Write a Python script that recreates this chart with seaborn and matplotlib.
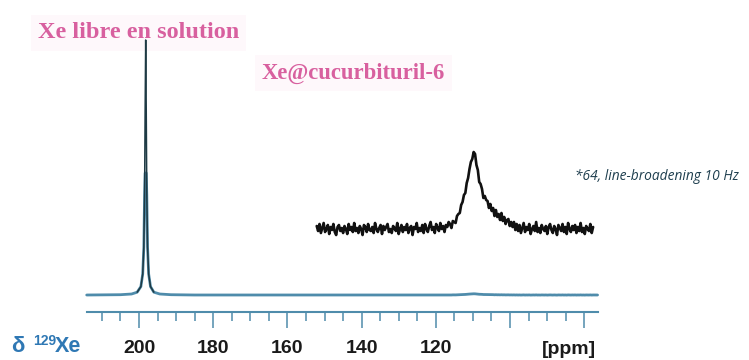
import matplotlib
matplotlib.use("Agg")
import matplotlib.pyplot as plt
import seaborn as sns
import numpy as np

# --- data (intensities in arbitrary units, free Xe peak = 255) ---
# free Xe in solution, main spectrum (ppm -> intensity)
free_ppm = [214.1, 205.0, 202.0, 200.5, 199.5, 199.0, 198.7, 198.5, 198.35,
            198.2, 198.05, 197.9, 197.7, 197.4, 196.9, 196.0, 194.4, 191.4,
            185.0, 170.0, 152.5]
free_int = [0, 0.3, 1.0, 2.8, 8.4, 21, 48, 100, 184,
            255, 184, 100, 48, 21, 8.4, 2.8, 1.0, 0.3,
            0, 0, 0]

# Xe@cucurbituril-6 region, x64 trace (152.1 -> 77.6 ppm, 200 points)
cb6_start, cb6_end = 152.1, 77.6
cb6_x64 = [
    3, -2, 5, -4, 1, 6, -3, 0, 4, -5, 2, -1, 5, -3, -6, 2, 4, -2, 1, -4,
    3, 0, -5, 5, -1, 2, -3, 6, -2, 1, -4, 3, 0, -6, 4, 2, -3, 5, -1, -2,
    2, -4, 6, 0, -3, 1, 4, -5, 3, -1, 2, 5, -3, 0, -4, 3, 1, -2, 6, -5,
    0, 4, -3, 2, -1, 5, -4, 1, 3, -6, 2, 0, 6, -3, 1, -2, 4, -4, 5, 0,
    -3, 3, 7, -1, 2, -4, 5, 1, -2, 6, 0, 3, -3, 4, 2, 7,
    5, 1, 8, 7, 6, 13, 15, 16, 24, 27, 34, 36, 46, 51, 60, 67, 70,
    77, 75, 64, 59, 47, 45, 40, 31, 33, 29, 28, 21, 25, 18, 21, 13, 19, 12,
    15, 9, 16, 8, 12, 5, 9, 10, 3, 7, 2, 7, -1, 5,
    -2, 4, -4, 1, 6, -3, 2, -1, 5, -5, 0, 3, -2, 7, -3, 1, -4, 4, 0, -2,
    3, -5, 2, 5, -1, -4, 3, 0, -6, 4, 1, -2, 5, -3, 2, -5, 6, 0, -3, 3,
    -1, 4, -4, 2, -2, 6, -3, 1, -5, 3, 0, -2, 5, -4, 2]
scale_factor = 64
inset_offset = 66

major_ticks = [200, 180, 160, 140, 120, 100, 80]
major_labels = ["200", "180", "160", "140", "120", "", ""]
minor_ticks = list(range(210, 75, -5))

blue = "#4f8cab"
dark = "#1e3a44"
pink = "#d8609f"
xe_blue = "#2f78b4"

cb6_ppm = np.linspace(cb6_start, cb6_end, len(cb6_x64))
cb6_arr = np.array(cb6_x64, dtype=float)
main_x = np.concatenate([free_ppm, cb6_ppm, [76.4]])
main_y = np.concatenate([free_int, cb6_arr / scale_factor, [0]])

sns.set_theme(style="white")
plt.rcParams["font.family"] = ["Liberation Sans", "DejaVu Sans"]

fig = plt.figure(figsize=(7.49, 3.6), dpi=100)
ax = fig.add_axes([0, 0, 1, 1])

# blue full spectrum (lower part), dark line for the tall free Xe peak
sns.lineplot(x=main_x, y=np.minimum(main_y, 122), ax=ax, color=blue,
             linewidth=2.0, sort=False, estimator=None, zorder=2)
peak = main_y > 1.5
sns.lineplot(x=main_x[peak], y=main_y[peak], ax=ax, color=dark,
             linewidth=1.1, sort=False, estimator=None, zorder=3)
# x64 inset trace
sns.lineplot(x=cb6_ppm, y=inset_offset + cb6_arr, ax=ax, color="#111111",
             linewidth=1.9, sort=False, estimator=None, zorder=3)

ax.set_xlim(237.47, 35.58)
ax.set_ylim(-65, 295)
for s in ["left", "right", "top"]:
    ax.spines[s].set_visible(False)
ax.spines["bottom"].set_position(("data", -17))
ax.spines["bottom"].set_bounds(214.1, 76.4)
ax.spines["bottom"].set_color(blue)
ax.spines["bottom"].set_linewidth(1.5)
ax.set_yticks([])
ax.set_xticks(major_ticks)
ax.set_xticks(minor_ticks, minor=True)
ax.set_xticklabels(major_labels, fontsize=14, fontweight="bold", color="#1a1a1a")
ax.tick_params(axis="x", which="major", direction="out", length=11.5,
               width=1.1, color=blue, pad=8.5, bottom=True)
ax.tick_params(axis="x", which="minor", direction="out", length=6.5,
               width=1.1, color=blue, bottom=True)
ax.set_xlabel("")
ax.set_facecolor("white")

tf = fig.transFigure
W, H = 749, 360
ax.text(38 / W, 1 - 33 / H, "Xe libre en solution", transform=tf,
        ha="left", va="center", fontsize=17.5, fontweight="bold",
        family="Liberation Serif", color=pink, zorder=1,
        bbox=dict(facecolor="#fef8fb", edgecolor="none", pad=5))
ax.text(262 / W, 1 - 73 / H, "Xe@cucurbituril-6", transform=tf,
        ha="left", va="center", fontsize=16.3, fontweight="bold",
        family="Liberation Serif", color=pink, zorder=1,
        bbox=dict(facecolor="#fef8fb", edgecolor="none", pad=5))
ax.text(575 / W, 1 - 176 / H, "*64, line-broadening 10 Hz", transform=tf,
        ha="left", va="center", fontsize=9.9, style="italic",
        family="Open Sans", color="#1f3f4f")
ax.text(11 / W, 1 - 347 / H, "δ", transform=tf, ha="left", va="center",
        fontsize=16, fontweight="bold", color=xe_blue)
ax.text(33 / W, 1 - 341 / H, "129", transform=tf, ha="left", va="center",
        fontsize=10, fontweight="bold", color=xe_blue)
ax.text(55 / W, 1 - 347 / H, "Xe", transform=tf, ha="left", va="center",
        fontsize=15.5, fontweight="bold", color=xe_blue)
ax.text(596 / W, 1 - 349 / H, "[ppm]", transform=tf, ha="right", va="center",
        fontsize=14, fontweight="bold", color="#1a1a1a")

fig.savefig("out.png", dpi=100)
